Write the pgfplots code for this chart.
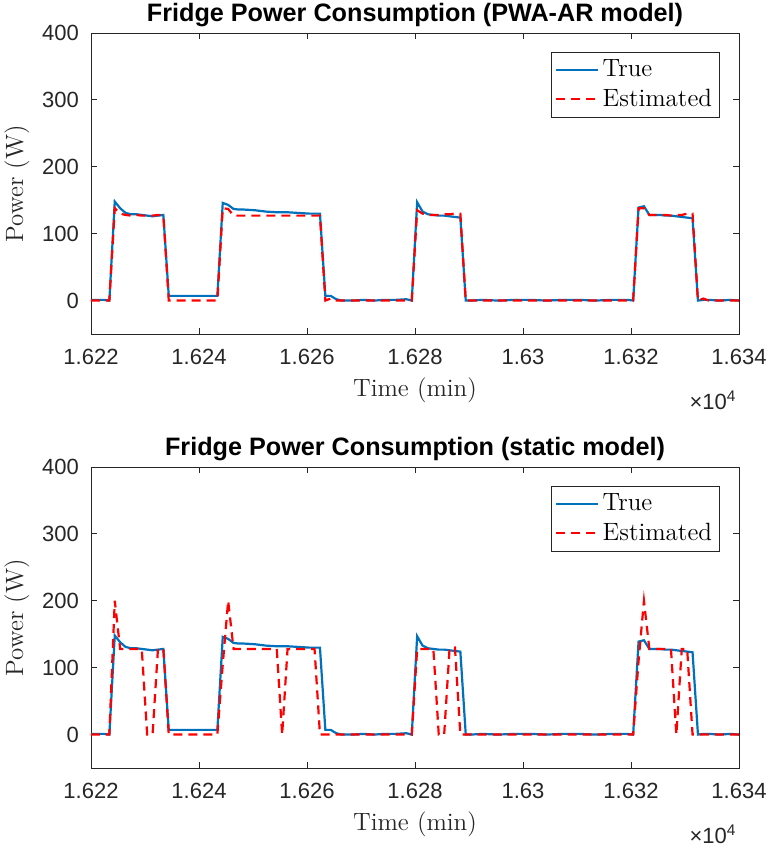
\documentclass[border=0pt]{standalone}
\usepackage{fontspec}
\usepackage{pgfplots}
\usepackage{pgfplotstable}
\pgfplotsset{compat=1.18}
\newfontfamily\arial{Liberation Sans}
\definecolor{mblue}{rgb}{0,0.447,0.741}
\definecolor{axgray}{rgb}{0.15,0.15,0.15}

\pgfplotstableread{
t v
16220 1
16220.4 1
16221.4 1
16222.4 1
16223.4 0
16224.4 148
16225.4 138
16226.4 131
16227.4 129
16228.4 129
16229.4 128
16230.4 127
16231.4 126
16232.4 127
16233.4 128
16234.4 7
16243.4 7
16244.4 146
16245.4 143
16246.4 137
16247.4 136
16248.4 136
16250.4 135
16252.4 133
16254.4 132
16256.4 132
16258.4 131
16260.4 130
16262.4 130
16263.4 7
16264.4 7
16265.4 2
16266.4 0
16268.4 0
16270.4 1
16272.4 0
16274.4 1
16276.4 1
16278.4 2
16279.4 0
16280.4 147
16281.4 133
16282.4 129
16283.4 128
16284.4 127
16285.4 127
16286.4 126
16287.4 125
16288.4 124
16289.4 0
16290.4 0
16292.4 1
16295.4 0
16298.4 1
16301.4 1
16304.4 0
16307.4 1
16310.4 1
16313.4 0
16316.4 1
16319.4 1
16320.4 0
16321.4 139
16322.4 141
16323.4 128
16324.4 128
16325.4 128
16326.4 127
16327.4 127
16328.4 126
16329.4 125
16330.4 124
16331.4 123
16332.4 0
16333.4 1
16334.4 1
16336.4 0
16338.4 1
16340 0
}\truedata

\pgfplotstableread{
t v
16220 0
16223.4 0
16224.4 138
16225.4 130
16226.4 128
16227.4 127
16228.4 128
16229.4 127
16230.4 127
16231.4 127
16232.4 128
16233.4 127
16234.4 0
16243.4 0
16244.4 138
16245.4 137
16246.4 127
16262.4 127
16263.4 0
16264.4 3
16265.4 0
16279.4 0
16280.4 135
16281.4 130
16282.4 128
16283.4 128
16284.4 128
16285.4 129
16286.4 129
16287.4 130
16288.4 130
16289.4 0
16320.4 0
16321.4 138
16322.4 138
16323.4 128
16326.4 128
16327.4 127
16328.4 128
16329.4 128
16330.4 130
16331.4 130
16332.4 0
16333.4 3
16334.4 0
16340 0
}\pwadata

\pgfplotstableread{
t v
16220 0
16223.4 0
16224.4 200
16225.4 128
16229.4 128
16230.4 0
16231.4 0
16232.4 128
16233.4 128
16234.4 0
16243.4 0
16244.4 105
16245.4 200
16246.4 128
16254.4 128
16255.4 0
16256.4 128
16261.4 128
16262.4 0
16279.4 0
16280.4 128
16283.4 128
16284.4 0
16285.4 0
16286.4 128
16287.4 130
16288.4 0
16320.4 0
16321.4 110
16322.4 200
16323.4 128
16327.4 128
16328.4 0
16329.4 128
16330.4 128
16331.4 0
16340 0
}\staticdata

\pgfplotsset{
  mystyle/.style={
    scale only axis, width=324pt, height=150.5pt,
    xmin=16220, xmax=16340, ymin=-50, ymax=400,
    scaled x ticks=false, scaled y ticks=false,
    xtick={16220,16240,16260,16280,16300,16320,16340},
    xticklabels={1.622,1.624,1.626,1.628,1.63,1.632,1.634},
    ytick={0,100,200,300,400},
    tick align=inside, xtick pos=both, ytick pos=both,
    major tick length=3pt,
    axis line style={axgray, line width=0.4pt},
    tick style={axgray, line width=0.4pt},
    /pgf/number format/assume math mode=true,
    ticklabel style={font=\arial\fontsize{11}{13}\selectfont, text=axgray},
    xticklabel style={yshift=-4pt},
    yticklabel style={xshift=-2.5pt},
    xlabel={Time (min)}, ylabel={Power (W)},
    label style={font=\fontsize{12.5}{15}\selectfont, text=axgray},
    xlabel style={at={(axis description cs:0.5,0)}, anchor=center, yshift=-28pt},
    ylabel style={at={(axis description cs:0,0.5)}, anchor=center, rotate=0, yshift=37pt},
    title style={font=\arial\bfseries\fontsize{12.6}{15}\selectfont, at={(axis description cs:0.5,1)}, anchor=center, yshift=3pt},
    legend style={at={(axis description cs:1,1)}, anchor=north east, xshift=-9.5pt, yshift=-9.5pt,
      font=\fontsize{12.5}{15}\selectfont, draw=axgray, line width=0.4pt,
      inner xsep=2pt, inner ysep=2pt, row sep=1pt, nodes={inner sep=1.8pt}},
    legend cell align=left,
    legend image code/.code={\draw[##1] (0pt,0pt) -- (21pt,0pt);},
    clip mode=individual,
  },
  trueline/.style={mblue, line width=1.1pt},
  estline/.style={red, line width=1.1pt, dash pattern=on 4.5pt off 3pt},
}

\begin{document}
\begin{tikzpicture}
\useasboundingbox (-45.5pt,16.5pt) rectangle (341.5pt,-407.5pt);
\begin{axis}[mystyle, at={(0pt,0pt)}, anchor=north west,
  title={Fridge Power Consumption (PWA-AR model)}]
\addplot[trueline] table[x=t,y=v] {\truedata};
\addlegendentry{True}
\addplot[estline] table[x=t,y=v] {\pwadata};
\addlegendentry{Estimated}
\node[font=\arial\fontsize{11}{13}\selectfont, text=axgray] at (rel axis cs:1,0) [xshift=-13pt, yshift=-33pt] {×10\textsuperscript{4}};
\end{axis}
\begin{axis}[mystyle, at={(0pt,-217pt)}, anchor=north west,
  title={Fridge Power Consumption (static model)}]
\addplot[trueline] table[x=t,y=v] {\truedata};
\addlegendentry{True}
\addplot[estline] table[x=t,y=v] {\staticdata};
\addlegendentry{Estimated}
\node[font=\arial\fontsize{11}{13}\selectfont, text=axgray] at (rel axis cs:1,0) [xshift=-13pt, yshift=-33pt] {×10\textsuperscript{4}};
\end{axis}
\end{tikzpicture}
\end{document}
